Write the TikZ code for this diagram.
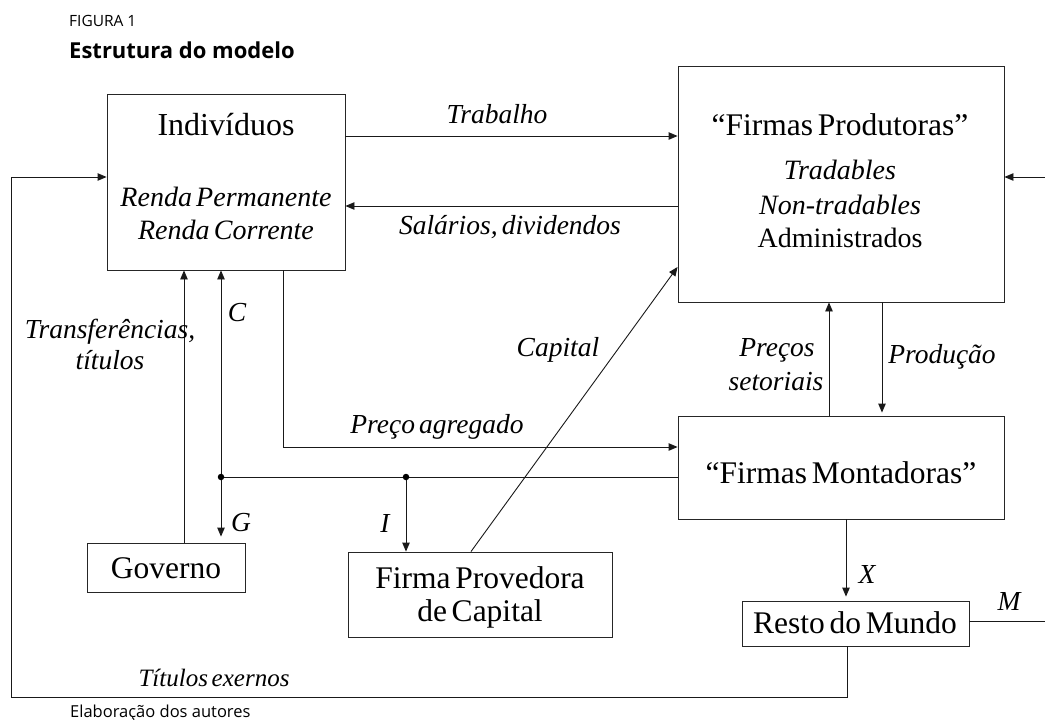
\documentclass[tikz,border=0pt]{standalone}
\usepackage{fontspec}
\setmainfont{Liberation Serif}[WordSpace=0.6]
\newfontfamily\sansf{Open Sans}
\usetikzlibrary{arrows.meta,calc}
\tikzset{
  box/.style={draw=black!85, line width=0.9pt, rectangle, inner sep=0pt},
  boxtxt/.style={inner sep=0pt, font=\fontsize{31.5}{31.5}\selectfont},
  lbl/.style={inner sep=0pt, font=\fontsize{27.5}{27.5}\selectfont\itshape},
  conn/.style={draw=black!90, line width=0.9pt},
  arr/.style={conn, -{Triangle[length=9pt,width=7.5pt]}},
  dot/.style={circle, fill=black, inner sep=0pt, minimum size=6.5pt}
}
\begin{document}
\begin{tikzpicture}[x=1pt,y=-1pt]
\useasboundingbox (0,0) rectangle (1045,720);
% headings
\node[anchor=west, inner sep=0pt, font=\sansf\fontsize{15.5}{15.5}\selectfont] (fig) at (69,21) {FIGURA 1};
\node[anchor=west, inner sep=0pt, font=\sansf\bfseries\fontsize{22}{22}\selectfont] (tit) at (69,50) {Estrutura do modelo};
\node[anchor=base west, inner sep=0pt, font=\sansf\fontsize{16.5}{16.5}\selectfont] (src) at (70,717) {Elaboração dos autores};
% boxes
\node[box, minimum width=238pt, minimum height=176pt] (ind) at (226,182) {};
\node[box, minimum width=326pt, minimum height=236pt] (prod) at (841,184) {};
\node[box, minimum width=326pt, minimum height=103pt] (mont) at (841,467.5) {};
\node[box, minimum width=158pt, minimum height=49pt] (gov) at (166,567.5) {};
\node[box, minimum width=264pt, minimum height=85pt] (prov) at (480,594.5) {};
\node[box, minimum width=227pt, minimum height=45pt] (resto) at (855.5,623.5) {};
% box texts
\node[boxtxt, font=\fontsize{32}{32}\selectfont] (tind) at (226,125) {Indivíduos};
\node[lbl, font=\fontsize{28}{28}\selectfont\itshape] (trp) at (226,197) {Renda Permanente};
\node[lbl, font=\fontsize{28}{28}\selectfont\itshape] (trc) at (226,230) {Renda Corrente};
\node[boxtxt] (tprod) at (840,125) {“Firmas Produtoras”};
\node[lbl, font=\fontsize{28}{28}\selectfont\itshape] (ttr) at (840,170) {Tradables};
\node[lbl, font=\fontsize{28}{28}\selectfont\itshape] (tnt) at (840,205) {Non-tradables};
\node[boxtxt, font=\fontsize{28}{28}\selectfont] (tadm) at (840,238) {Administrados};
\node[boxtxt] (tmont) at (841,473) {“Firmas Montadoras”};
\node[boxtxt] (tgov) at (166,568) {Governo};
\node[boxtxt] (tprov1) at (480,578) {Firma Provedora};
\node[boxtxt] (tprov2) at (480,614) {de Capital};
\node[boxtxt] (tresto) at (855,623) {Resto do Mundo};
% helper coordinates
\coordinate (lt) at (11,177);
\coordinate (lb) at (11,697);
\coordinate (rb) at (847,697);
\coordinate (dC) at (221,477);
\coordinate (dI) at (406,477);
\coordinate (rt) at (1045,177);
\coordinate (rm) at (1045,621);
% connectors
\draw[arr] (ind.east |- 0,136) -- (prod.west |- 0,136);
\draw[arr] (prod.west |- 0,206) -- (ind.east |- 0,206);
\draw[arr] (prov.north -| 471,0) -- (prod.west |- 0,267);
\draw[arr] (ind.south -| 283,0) -- (283,447) -- (mont.west |- 0,447);
\draw[conn] (mont.west |- dC) -- (dC);
\draw[arr] (dC) -- (ind.south -| dC);
\draw[arr, shorten >=6pt] (dC) -- (gov.north -| dC);
\draw[arr] (dI) -- (prov.north -| dI);
\draw[arr] (gov.north -| 184,0) -- (ind.south -| 184,0);
\draw[arr] (mont.north -| 829,0) -- (prod.south -| 829,0);
\draw[arr, shorten >=3pt] (prod.south -| 882,0) -- (mont.north -| 882,0);
\draw[arr, shorten >=4pt] (mont.south -| 846,0) -- (resto.north -| 846,0);
\draw[conn] (resto.east |- rm) -- (rm);
\draw[arr] (rt) -- (prod.east |- rt);
\draw[arr] (resto.south -| rb) -- (rb) -- (lb) -- (lt) -- (ind.west |- lt);
\node[dot] (ndC) at (dC) {};
\node[dot] (ndI) at (dI) {};
% labels
\node[lbl] (lTrab) at (497,114) {Trabalho};
\node[lbl] (lSal) at (510,227) {Salários, dividendos};
\node[lbl] (lCap) at (558,350) {Capital};
\node[lbl] (lPreco) at (437,427) {Preço agregado};
\node[lbl] (lC) at (237,313) {C};
\node[lbl] (lG) at (241,523) {G};
\node[lbl] (lI) at (385,523) {I};
\node[lbl] (lTr1) at (110,332) {Transferências,};
\node[lbl] (lTr2) at (110,360) {títulos};
\node[lbl] (lPs1) at (777,350) {Preços};
\node[lbl] (lPs2) at (776,382) {setoriais};
\node[lbl] (lProd) at (942,357) {Produção};
\node[lbl] (lX) at (867,574) {X};
\node[lbl] (lM) at (1009,601) {M};
\node[lbl, font=\fontsize{25}{25}\selectfont\itshape] (lTit) at (214,678) {Títulos exernos};
\end{tikzpicture}
\end{document}
